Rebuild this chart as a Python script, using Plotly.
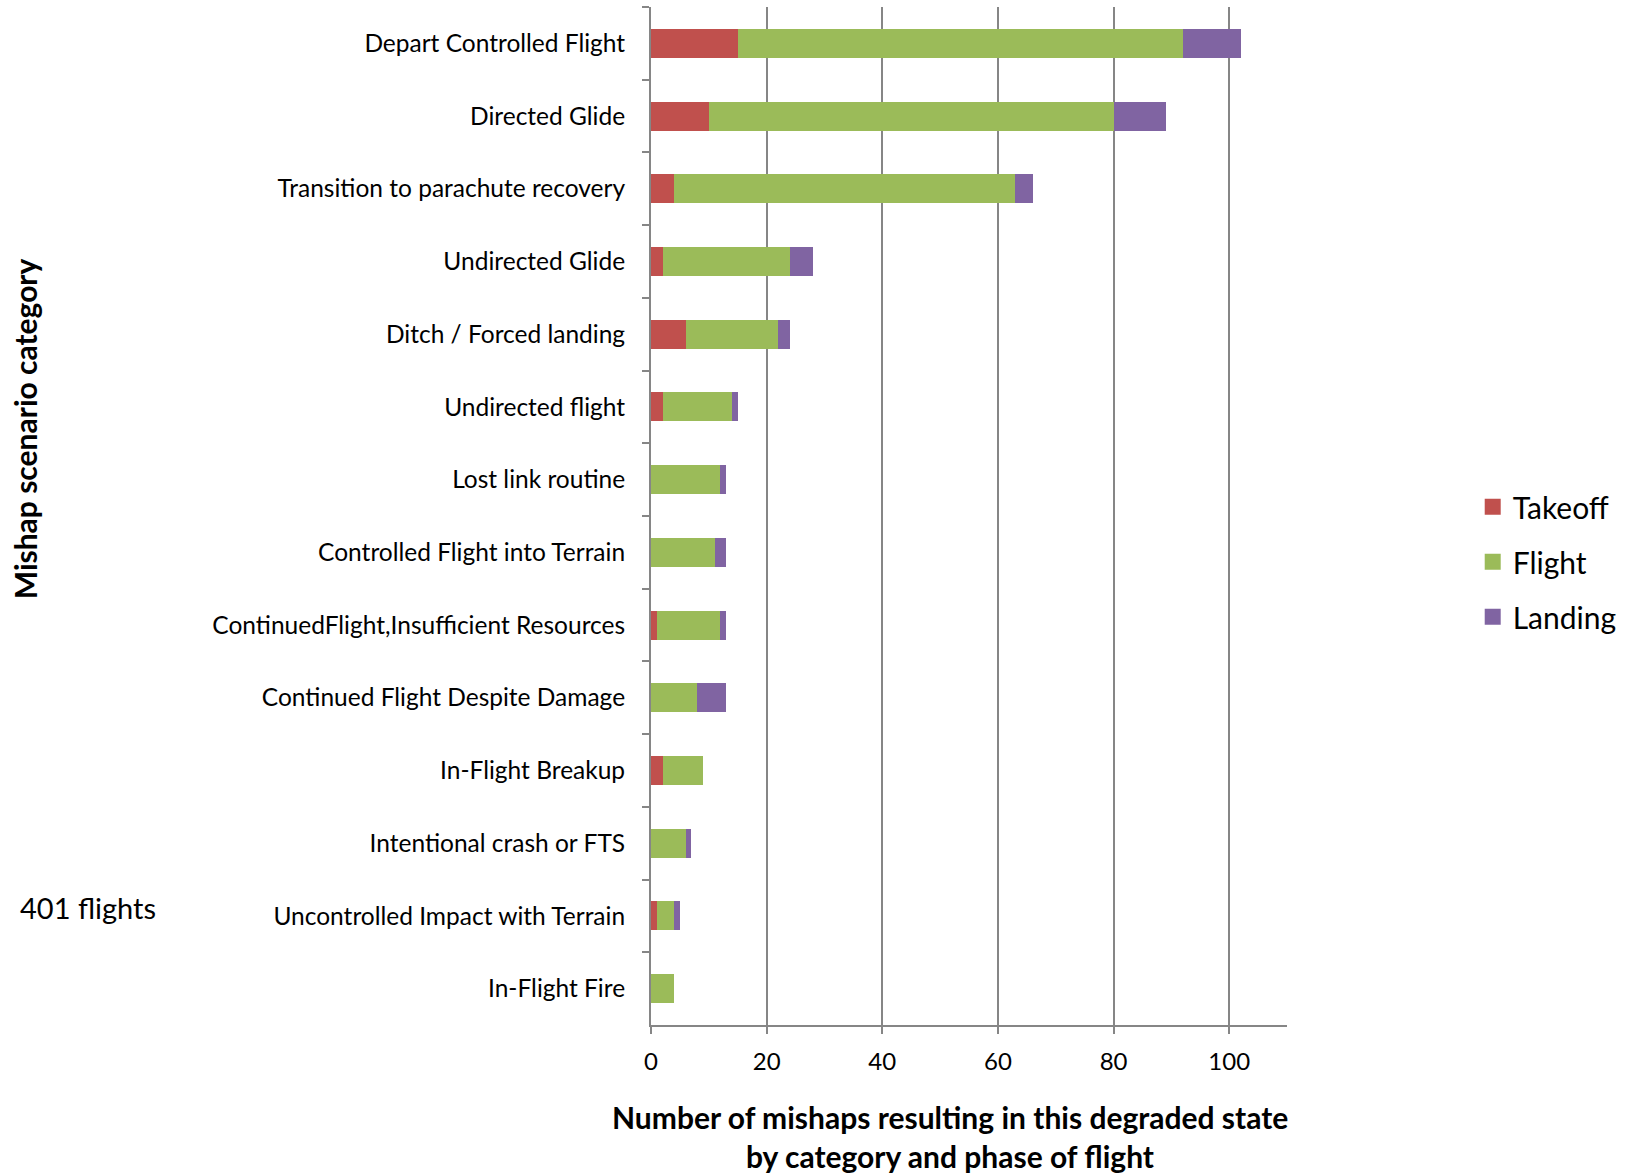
import plotly.graph_objects as go

# Mishap scenario categories, listed top to bottom
categories = [
    "Depart Controlled Flight",
    "Directed Glide",
    "Transition to parachute recovery",
    "Undirected Glide",
    "Ditch / Forced landing",
    "Undirected flight",
    "Lost link routine",
    "Controlled Flight into Terrain",
    "ContinuedFlight,Insufficient Resources",
    "Continued Flight Despite Damage",
    "In-Flight Breakup",
    "Intentional crash or FTS",
    "Uncontrolled Impact with Terrain",
    "In-Flight Fire",
]

# Mishap counts by phase of flight
takeoff = [15, 10, 4, 2, 6, 2, 0, 0, 1, 0, 2, 0, 1, 0]
flight = [77, 70, 59, 22, 16, 12, 12, 11, 11, 8, 7, 6, 3, 4]
landing = [10, 9, 3, 4, 2, 1, 1, 2, 1, 5, 0, 1, 1, 0]

x_ticks = [0, 20, 40, 60, 80, 100]

FONT = "Lato"
GREY = "#868686"

fig = go.Figure()
series = [
    ("Takeoff", takeoff, "#C0504D"),
    ("Flight", flight, "#9BBB59"),
    ("Landing", landing, "#8064A2"),
]
for name, vals, color in series:
    fig.add_trace(go.Bar(
        y=categories,
        x=vals,
        name=name,
        orientation="h",
        legendgroup=name,
        showlegend=False,
        marker=dict(color=color, line=dict(width=0)),
    ))
    # legend key with a larger square swatch
    fig.add_trace(go.Scatter(
        x=[None],
        y=[None],
        mode="markers",
        name=name,
        legendgroup=name,
        marker=dict(symbol="square", size=16, color=color),
    ))

fig.update_layout(
    width=1627,
    height=1176,
    barmode="stack",
    bargap=0.6,
    plot_bgcolor="white",
    paper_bgcolor="white",
    margin=dict(l=651, r=340, t=7, b=151, autoexpand=False),
    font=dict(family=FONT, color="black", size=24),
    legend=dict(
        x=1.292,
        xanchor="left",
        y=0.455,
        yanchor="middle",
        font=dict(family=FONT, size=30, color="black"),
        tracegroupgap=13,
        traceorder="grouped",
        bgcolor="rgba(0,0,0,0)",
    ),
    showlegend=True,
)

fig.update_xaxes(
    range=[0, 110],
    tickvals=x_ticks,
    showgrid=True,
    gridcolor=GREY,
    gridwidth=2,
    zeroline=False,
    showline=True,
    linecolor=GREY,
    linewidth=2,
    ticks="outside",
    ticklen=7,
    tickwidth=2,
    tickcolor=GREY,
    ticklabelstandoff=7,
    tickfont=dict(family=FONT, size=24, color="black"),
)

fig.update_yaxes(
    type="category",
    categoryorder="array",
    categoryarray=categories,
    autorange="reversed",
    showgrid=False,
    showline=True,
    linecolor=GREY,
    linewidth=2,
    ticks="outside",
    tickson="boundaries",
    ticklen=7,
    tickwidth=2,
    tickcolor=GREY,
    ticklabelstandoff=19,
    tickfont=dict(family=FONT, size=24.5, color="black"),
)

# Axis titles and side note
fig.add_annotation(
    text="<b>Number of mishaps resulting in this degraded state</b>",
    xref="paper", yref="paper", x=0.470, y=-0.0905,
    xanchor="center", yanchor="middle", showarrow=False,
    font=dict(family=FONT, size=30, color="black"),
)
fig.add_annotation(
    text="<b>by category and phase of flight</b>",
    xref="paper", yref="paper", x=0.470, y=-0.129,
    xanchor="center", yanchor="middle", showarrow=False,
    font=dict(family=FONT, size=30, color="black"),
)
fig.add_annotation(
    text="<b>Mishap scenario category</b>",
    xref="paper", yref="paper", x=-0.983, y=0.586,
    xanchor="center", yanchor="middle", textangle=-90, showarrow=False,
    font=dict(family=FONT, size=30, color="black"),
)
fig.add_annotation(
    text="401 flights",
    xref="paper", yref="paper", x=-0.996, y=0.115,
    xanchor="left", yanchor="middle", showarrow=False,
    font=dict(family=FONT, size=29, color="black"),
)

fig.write_html("out.html")
